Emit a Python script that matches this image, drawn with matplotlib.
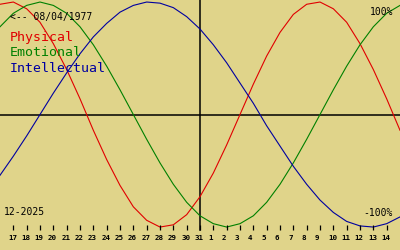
import numpy as np
import matplotlib.pyplot as plt

# biorhythm values, one per day from 16 Dec to 15 Jan
physical = [0.98, 1.00, 0.94, 0.82, 0.63, 0.40, 0.14, -0.14, -0.40, -0.63, -0.82,
            -0.94, -1.00, -0.98, -0.89, -0.73, -0.52, -0.27, 0.00, 0.27, 0.52,
            0.73, 0.89, 0.98, 1.00, 0.94, 0.82, 0.63, 0.40, 0.14, -0.14]
emotional = [0.78, 0.90, 0.97, 1.00, 0.97, 0.90, 0.78, 0.62, 0.43, 0.22, 0.00,
             -0.22, -0.43, -0.62, -0.78, -0.90, -0.97, -1.00, -0.97, -0.90, -0.78,
             -0.62, -0.43, -0.22, 0.00, 0.22, 0.43, 0.62, 0.78, 0.90, 0.97]
intellectual = [-0.54, -0.37, -0.19, 0.00, 0.19, 0.37, 0.54, 0.69, 0.81, 0.91, 0.97,
                1.00, 0.99, 0.95, 0.87, 0.76, 0.62, 0.46, 0.28, 0.10, -0.10,
                -0.28, -0.46, -0.62, -0.76, -0.87, -0.95, -0.99, -1.00, -0.97, -0.91]
day_labels = [17, 18, 19, 20, 21, 22, 23, 24, 25, 26, 27, 28, 29, 30, 31,
              1, 2, 3, 4, 5, 6, 7, 8, 9, 10, 11, 12, 13, 14]
series_names = ["Physical", "Emotional", "Intellectual"]
birth_label = "<-- 08/04/1977"
month_label = "12-2025"

bg = "#e0d48a"
colors = ["#e00000", "#008000", "#0000a0"]
mono = "DejaVu Sans Mono"

fig = plt.figure(figsize=(4, 2.5), dpi=100)
fig.patch.set_facecolor(bg)
ax = fig.add_axes([0, 0, 1, 1])
ax.set_facecolor(bg)
ax.set_xlim(0, 30)
ax.set_ylim(-1.204, 1.018)
ax.axis("off")

days = np.arange(len(physical))

# axes cross
ax.axhline(0, color="black", lw=1.1)
ax.plot([15, 15], [-1.027, 1.02], color="black", lw=1.1)

for vals, c in zip([physical, emotional, intellectual], colors):
    ax.plot(days, vals, color=c, lw=0.8)

# day ticks + labels
tick_x = np.arange(1, len(day_labels) + 1)
ax.vlines(tick_x, -1.027, -0.982, color="black", lw=0.9)
for x, d in zip(tick_x, day_labels):
    ax.text(x - 0.4, -1.098, str(d), ha="left", va="center", fontsize=5.4,
            weight="bold", family=mono)

# labels
fig.text(10 / 400, 1 - 17 / 250, birth_label, ha="left", va="center",
         fontsize=7, family=mono)
for i, (name, c) in enumerate(zip(series_names, colors)):
    fig.text(10 / 400, 1 - (38 + 15 * i) / 250, name, ha="left", va="center",
             fontsize=9.5, family=mono, color=c)
fig.text(393 / 400, 1 - 12 / 250, "100%", ha="right", va="center",
         fontsize=7, family=mono)
fig.text(393 / 400, 1 - 213 / 250, "-100%", ha="right", va="center",
         fontsize=7, family=mono)
fig.text(4 / 400, 1 - 212 / 250, month_label, ha="left", va="center",
         fontsize=7, family=mono)

fig.savefig("out.png", dpi=100, facecolor=bg)
